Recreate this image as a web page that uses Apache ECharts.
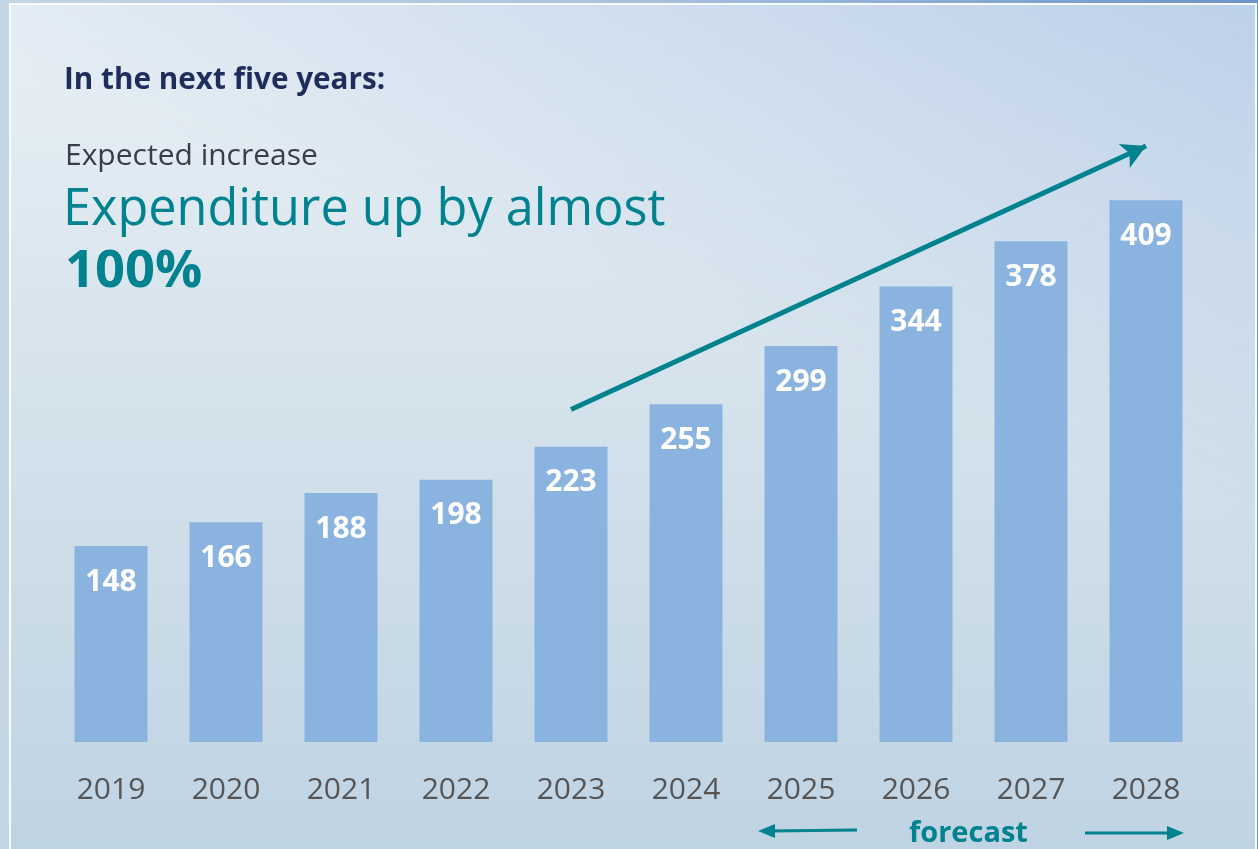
<!DOCTYPE html>
<html>
<head>
<meta charset="utf-8">
<script src="https://cdn.jsdelivr.net/npm/echarts@6/dist/echarts.min.js"></script>
<style>
  html, body { margin: 0; padding: 0; width: 1258px; height: 849px; overflow: hidden; }
  body { background: linear-gradient(90deg, #c4d7e6 0%, #a9c2dc 50%, #6a93c8 100%); position: relative; }
  #frame {
    position: absolute; left: 9px; top: 3px; width: 1244px; height: 860px;
    border: 2px solid rgba(255,255,255,0.9);
    background:
      linear-gradient(200deg, rgba(170,195,228,0.7) 0%, rgba(190,210,230,0) 40%),
      linear-gradient(180deg, #e9f0f6 0%, #d7e4ed 40%, #c9dae7 75%, #bed3e3 100%);
  }
  #chart { position: absolute; left: 0; top: 0; width: 1258px; height: 849px; }
</style>
</head>
<body>
<div id="frame"></div>
<div id="chart"></div>
<script>
const categories = ['2019','2020','2021','2022','2023','2024','2025','2026','2027','2028'];
const expenditure = [148, 166, 188, 198, 223, 255, 299, 344, 378, 409];
const trendStart = ['2023', 251];
const trendEnd = ['2028', 450];

const teal = '#00828f';
const chart = echarts.init(document.getElementById('chart'), null, { renderer: 'canvas' });
const FONT = 'Open Sans, Noto Sans, sans-serif';

chart.setOption({
  backgroundColor: 'transparent',
  animation: false,
  textStyle: { fontFamily: FONT },
  grid: { left: 53.5, right: 54.5, top: 146, bottom: 107 },
  xAxis: {
    type: 'category',
    data: categories,
    axisLine: { show: false },
    axisTick: { show: false },
    axisLabel: { color: '#555555', fontSize: 30, margin: 33, fontFamily: FONT }
  },
  yAxis: {
    type: 'value', min: 0, max: 450,
    show: false,
    splitLine: { show: false }
  },
  series: [{
    type: 'bar',
    data: expenditure,
    barWidth: 73,
    itemStyle: { color: '#8bb3e0' },
    label: {
      show: true, position: 'insideTop', distance: 21,
      color: '#ffffff', fontSize: 30, fontWeight: 'bold', fontFamily: FONT
    },
    markLine: {
      silent: true,
      symbol: ['none', 'arrow'],
      symbolSize: [20, 24],
      label: { show: false },
      lineStyle: { color: teal, width: 5, type: 'solid' },
      data: [[ { coord: trendStart }, { coord: trendEnd } ]]
    }
  }],
  graphic: [
    { type: 'text', left: 64, top: 66, style: { text: 'In the next five years:', fill: '#1e2d5c', font: 'bold 29.7px ' + FONT } },
    { type: 'text', left: 65, top: 141, style: { text: 'Expected increase', fill: '#3b3b4b', font: '30px ' + FONT } },
    { type: 'text', left: 63, top: 186, style: { text: 'Expenditure up by almost', fill: teal, font: '50.4px ' + FONT } },
    { type: 'text', left: 65, top: 246, style: { text: '100%', fill: teal, font: 'bold 52.5px ' + FONT } },
    { type: 'text', left: 909, top: 819, style: { text: 'forecast', fill: teal, font: 'bold 29px ' + FONT } },
    { type: 'line', shape: { x1: 770, y1: 831, x2: 857, y2: 830 }, style: { stroke: teal, lineWidth: 3 } },
    { type: 'polygon', shape: { points: [[758, 831], [775, 824], [775, 838]] }, style: { fill: teal } },
    { type: 'line', shape: { x1: 1085, y1: 833, x2: 1172, y2: 833 }, style: { stroke: teal, lineWidth: 3 } },
    { type: 'polygon', shape: { points: [[1184, 833], [1167, 826], [1167, 840]] }, style: { fill: teal } }
  ]
});
</script>
</body>
</html>
